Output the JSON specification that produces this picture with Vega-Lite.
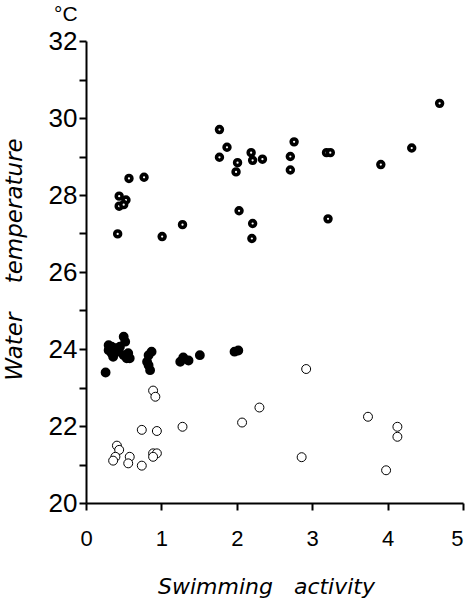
{
  "$schema": "https://vega.github.io/schema/vega-lite/v6.json",
  "width": 377,
  "height": 462,
  "autosize": {"type": "none"},
  "padding": {"left": 86, "top": 41, "right": 5, "bottom": 103},
  "background": "white",
  "config": {"view": {"stroke": null}},
  "title": {"text": "°C", "anchor": "start", "frame": "group", "dx": -32, "dy": -3, "fontSize": 21, "font": "Liberation Sans", "fontWeight": "normal", "offset": 0, "color": "black"},
  "data": {"values": [
    {"x": 1.77, "t": 29.7, "g": "ring"}, {"x": 1.87, "t": 29.24, "g": "ring"}, {"x": 1.77, "t": 28.98, "g": "ring"},
    {"x": 2.01, "t": 28.84, "g": "ring"}, {"x": 1.99, "t": 28.6, "g": "ring"}, {"x": 2.19, "t": 29.1, "g": "ring"},
    {"x": 2.21, "t": 28.9, "g": "ring"}, {"x": 2.34, "t": 28.93, "g": "ring"}, {"x": 0.57, "t": 28.43, "g": "ring"},
    {"x": 0.77, "t": 28.46, "g": "ring"}, {"x": 0.44, "t": 27.97, "g": "ring"}, {"x": 0.53, "t": 27.87, "g": "ring"},
    {"x": 0.44, "t": 27.71, "g": "ring"}, {"x": 0.5, "t": 27.75, "g": "ring"}, {"x": 0.42, "t": 26.99, "g": "ring"},
    {"x": 1.01, "t": 26.92, "g": "ring"}, {"x": 1.28, "t": 27.23, "g": "ring"}, {"x": 2.03, "t": 27.59, "g": "ring"},
    {"x": 2.21, "t": 27.26, "g": "ring"}, {"x": 2.2, "t": 26.87, "g": "ring"}, {"x": 4.69, "t": 30.38, "g": "ring"},
    {"x": 4.32, "t": 29.22, "g": "ring"}, {"x": 3.91, "t": 28.79, "g": "ring"}, {"x": 3.19, "t": 29.1, "g": "ring"},
    {"x": 3.24, "t": 29.1, "g": "ring"}, {"x": 2.76, "t": 29.38, "g": "ring"}, {"x": 2.71, "t": 29.0, "g": "ring"},
    {"x": 2.71, "t": 28.65, "g": "ring"}, {"x": 3.21, "t": 27.38, "g": "ring"},
    {"x": 0.26, "t": 23.39, "g": "solid"}, {"x": 0.3, "t": 24.1, "g": "solid"}, {"x": 0.3, "t": 23.97, "g": "solid"},
    {"x": 0.34, "t": 23.89, "g": "solid"}, {"x": 0.39, "t": 24.02, "g": "solid"}, {"x": 0.43, "t": 23.93, "g": "solid"},
    {"x": 0.45, "t": 24.06, "g": "solid"}, {"x": 0.5, "t": 24.32, "g": "solid"}, {"x": 0.52, "t": 24.19, "g": "solid"},
    {"x": 0.5, "t": 23.84, "g": "solid"}, {"x": 0.54, "t": 23.76, "g": "solid"}, {"x": 0.58, "t": 23.76, "g": "solid"},
    {"x": 0.56, "t": 23.89, "g": "solid"}, {"x": 0.34, "t": 24.06, "g": "solid"}, {"x": 0.36, "t": 23.8, "g": "solid"},
    {"x": 0.87, "t": 23.93, "g": "solid"}, {"x": 0.83, "t": 23.84, "g": "solid"}, {"x": 0.81, "t": 23.67, "g": "solid"},
    {"x": 0.83, "t": 23.58, "g": "solid"}, {"x": 0.85, "t": 23.45, "g": "solid"}, {"x": 1.25, "t": 23.67, "g": "solid"},
    {"x": 1.29, "t": 23.78, "g": "solid"}, {"x": 1.36, "t": 23.7, "g": "solid"}, {"x": 1.51, "t": 23.84, "g": "solid"},
    {"x": 1.97, "t": 23.93, "g": "solid"}, {"x": 2.02, "t": 23.96, "g": "solid"},
    {"x": 0.89, "t": 22.92, "g": "open"}, {"x": 0.92, "t": 22.76, "g": "open"}, {"x": 0.74, "t": 21.9, "g": "open"},
    {"x": 0.94, "t": 21.87, "g": "open"}, {"x": 1.28, "t": 21.98, "g": "open"}, {"x": 2.07, "t": 22.09, "g": "open"},
    {"x": 2.3, "t": 22.48, "g": "open"}, {"x": 0.41, "t": 21.49, "g": "open"}, {"x": 0.44, "t": 21.38, "g": "open"},
    {"x": 0.39, "t": 21.2, "g": "open"}, {"x": 0.36, "t": 21.1, "g": "open"}, {"x": 0.58, "t": 21.2, "g": "open"},
    {"x": 0.56, "t": 21.03, "g": "open"}, {"x": 0.74, "t": 20.97, "g": "open"}, {"x": 0.89, "t": 21.29, "g": "open"},
    {"x": 0.94, "t": 21.29, "g": "open"}, {"x": 0.89, "t": 21.2, "g": "open"}, {"x": 2.92, "t": 23.48, "g": "open"},
    {"x": 3.74, "t": 22.24, "g": "open"}, {"x": 4.13, "t": 21.98, "g": "open"}, {"x": 4.13, "t": 21.72, "g": "open"},
    {"x": 2.86, "t": 21.19, "g": "open"}, {"x": 3.98, "t": 20.85, "g": "open"}
  ]},
  "mark": {"type": "point", "shape": "circle", "stroke": "black", "opacity": 1},
  "encoding": {
    "x": {
      "field": "x", "type": "quantitative",
      "scale": {"domain": [0, 5], "nice": false, "zero": false},
      "axis": {
        "values": [0, 1, 2, 3, 4, 5], "grid": false, "domainColor": "black", "domainWidth": 2,
        "tickColor": "black", "tickWidth": 2, "tickSize": 7, "labelFontSize": 22, "labelFont": "Liberation Sans",
        "labelColor": "black", "labelPadding": 18, "labelFlush": false,
        "labelAlign": {"condition": {"test": "datum.value == 5", "value": "right"}, "value": "center"},
        "title": "Swimming\u00a0\u00a0\u00a0activity", "titleFont": "DejaVu Sans", "titleFontSize": 22, "titleFontStyle": "italic",
        "titleFontWeight": "normal", "titleColor": "black", "titlePadding": 27, "titleX": 180
      }
    },
    "y": {
      "field": "t", "type": "quantitative",
      "scale": {"domain": [20, 32], "nice": false, "zero": false},
      "axis": {
        "values": [20, 21, 22, 23, 24, 25, 26, 27, 28, 29, 30, 31, 32], "labelExpr": "datum.value % 2 == 0 ? datum.label : ''",
        "grid": false, "domainColor": "black", "domainWidth": 2,
        "tickColor": "black", "tickWidth": 2, "tickSize": 7, "labelFontSize": 26, "labelFont": "Liberation Sans",
        "labelColor": "black", "labelPadding": 2, "labelFlush": false,
        "title": "Water\u00a0\u00a0\u00a0\u00a0temperature", "titleFont": "DejaVu Sans", "titleFontSize": 23, "titleFontStyle": "italic",
        "titleFontWeight": "normal", "titleColor": "black", "titlePadding": 22, "titleY": 218
      }
    },
    "fill": {"field": "g", "type": "nominal", "scale": {"domain": ["ring", "solid", "open"], "range": ["white", "black", "white"]}, "legend": null},
    "size": {"field": "g", "type": "nominal", "scale": {"domain": ["ring", "solid", "open"], "range": [34, 80, 36]}, "legend": null},
    "strokeWidth": {"field": "g", "type": "nominal", "scale": {"domain": ["ring", "solid", "open"], "range": [3.6, 1, 2]}, "legend": null}
  }
}
